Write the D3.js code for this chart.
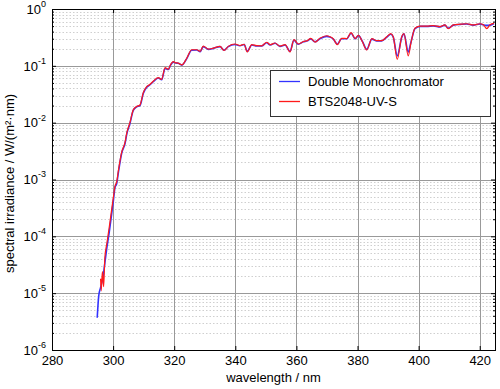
<!DOCTYPE html>
<html lang="en">
<head>
  <meta charset="UTF-8">
  <title>Spectral irradiance</title>
  <script src="https://d3js.org/d3.v7.min.js"></script>
  <style>
    body { margin: 0; background: #fff; }
    text { font-family: "Liberation Sans", Arial, sans-serif; }
  </style>
</head>
<body>
<script>
// wavelength grid (nm), shared by both instruments
const wavelength = [294.8, 295.3, 295.9, 296.1, 296.5, 296.9, 297.3, 297.9, 298.7, 299.5,
  300.1, 300.6, 301.2, 301.7, 302.8, 303.9, 304.5, 305.5, 306.6, 307.7,
  308.8, 309.9, 311.0, 312.0, 313.2, 314.8, 315.9, 317.0, 318.1, 318.7,
  319.7, 320.5, 321.3, 322.5, 324.1, 325.7, 327.4, 328.5, 329.5, 331.2,
  332.8, 335.0, 336.3, 337.7, 339.9, 341.5, 342.9, 343.9, 345.4, 347.0,
  348.6, 350.3, 351.4, 353.0, 354.6, 356.3, 357.9, 359.2, 360.6, 362.3,
  363.6, 364.7, 366.1, 367.7, 369.9, 371.0, 372.1, 373.4, 374.8, 376.5,
  377.9, 379.2, 380.3, 381.6, 383.0, 384.7, 386.3, 387.9, 389.6, 390.9,
  391.7, 393.0, 394.5, 395.2, 396.6, 397.5, 398.8, 400.5, 402.7, 404.8,
  407.0, 408.6, 409.7, 411.4, 413.6, 415.7, 417.9, 420.1, 421.2, 422.3,
  423.4, 424.7];

// Double Monochromator, W/(m2 nm)
const doubleMono = [3.7e-6, 9.0e-6, 1.25e-5, 1.4e-5, 1.7e-5, 2.3e-5, 3.4e-5, 6.0e-5, 1.15e-4, 2.4e-4,
  4.3e-4, 7.2e-4, 8.6e-4, 1.3e-3, 2.9e-3, 4.3e-3, 6.4e-3, 9.6e-3, 1.65e-2, 1.9e-2,
  2.0e-2, 3.3e-2, 4.2e-2, 4.6e-2, 5.3e-2, 6.1e-2, 5.7e-2, 9.0e-2, 8.6e-2, 1.0e-1,
  1.16e-1, 1.12e-1, 1.11e-1, 1.03e-1, 1.34e-1, 1.88e-1, 1.9e-1, 1.78e-1, 2.18e-1, 1.95e-1,
  2.03e-1, 2.18e-1, 1.88e-1, 2.18e-1, 2.38e-1, 2.25e-1, 2.38e-1, 1.8e-1, 2.33e-1, 2.23e-1,
  2.23e-1, 2.55e-1, 2.33e-1, 2.5e-1, 2.2e-1, 2.33e-1, 1.8e-1, 2.83e-1, 2.4e-1, 2.65e-1,
  2.75e-1, 2.98e-1, 2.65e-1, 3.0e-1, 3.3e-1, 3.2e-1, 2.95e-1, 2.4e-1, 3.0e-1, 3.0e-1,
  3.75e-1, 3.0e-1, 3.4e-1, 2.7e-1, 1.95e-1, 2.95e-1, 2.75e-1, 2.75e-1, 3.2e-1, 3.6e-1,
  3.2e-1, 1.5e-1, 3.2e-1, 3.65e-1, 1.75e-1, 2.6e-1, 4.5e-1, 4.95e-1, 4.95e-1, 5.05e-1,
  4.85e-1, 5.2e-1, 4.6e-1, 5.2e-1, 5.35e-1, 5.45e-1, 5.2e-1, 5.45e-1, 5.25e-1, 5.15e-1,
  5.2e-1, 5.55e-1];

// BTS2048-UV-S, W/(m2 nm)
const bts = [null, null, 1.8e-5, 1.1e-5, 2.4e-5, 1.3e-5, 4.2e-5, 7.2e-5, 1.4e-4, 2.9e-4,
  4.9e-4, 7.6e-4, 9.2e-4, 1.4e-3, 3.0e-3, 4.5e-3, 6.7e-3, 1.0e-2, 1.68e-2, 1.92e-2,
  2.05e-2, 3.4e-2, 4.3e-2, 4.7e-2, 5.4e-2, 6.2e-2, 5.8e-2, 9.3e-2, 8.7e-2, 1.02e-1,
  1.19e-1, 1.13e-1, 1.12e-1, 1.04e-1, 1.36e-1, 1.92e-1, 1.92e-1, 1.8e-1, 2.22e-1, 1.97e-1,
  2.05e-1, 2.2e-1, 1.86e-1, 2.2e-1, 2.42e-1, 2.28e-1, 2.4e-1, 1.75e-1, 2.36e-1, 2.26e-1,
  2.25e-1, 2.6e-1, 2.35e-1, 2.52e-1, 2.22e-1, 2.36e-1, 1.76e-1, 2.88e-1, 2.42e-1, 2.68e-1,
  2.78e-1, 3.05e-1, 2.62e-1, 3.05e-1, 3.38e-1, 3.25e-1, 2.98e-1, 2.35e-1, 3.05e-1, 3.02e-1,
  3.85e-1, 3.02e-1, 3.45e-1, 2.65e-1, 1.9e-1, 3.0e-1, 2.78e-1, 2.78e-1, 3.25e-1, 3.7e-1,
  3.25e-1, 1.3e-1, 3.3e-1, 3.7e-1, 1.5e-1, 2.55e-1, 4.6e-1, 5.0e-1, 5.0e-1, 5.1e-1,
  4.9e-1, 5.25e-1, 4.5e-1, 5.25e-1, 5.4e-1, 5.5e-1, 5.25e-1, 5.5e-1, 5.3e-1, 4.5e-1,
  5.3e-1, 5.6e-1];

const xTicks = [280, 300, 320, 340, 360, 380, 400, 420];
const yExponents = [0, -1, -2, -3, -4, -5, -6];
const seriesNames = ["Double Monochromator", "BTS2048-UV-S"];
const seriesColors = ["#3333ff", "#ff1a1a"];

const W = 500, H = 389;
const margin = { top: 9, right: 5, bottom: 39, left: 52 };
const w = W - margin.left - margin.right;
const h = H - margin.top - margin.bottom;

const svg = d3.select("body").append("svg")
  .attr("width", W).attr("height", H);

const g = svg.append("g")
  .attr("transform", `translate(${margin.left},${margin.top})`);

const x = d3.scaleLinear().domain([280, 425]).range([0, w]);
const y = d3.scaleLog().domain([1e-6, 1]).range([h, 0]);

const majorY = yExponents.map(e => Math.pow(10, e));
const minorY = [];
for (let e = -6; e < 0; e++) {
  for (let k = 2; k <= 9; k++) minorY.push(k * Math.pow(10, e));
}

// minor horizontal grid (dotted)
g.append("g").selectAll("line")
  .data(minorY).enter().append("line")
  .attr("x1", 0).attr("x2", w)
  .attr("y1", d => Math.round(y(d)) + 0.5)
  .attr("y2", d => Math.round(y(d)) + 0.5)
  .attr("stroke", "#cfcfcf")
  .attr("stroke-width", 1)
  .attr("stroke-dasharray", "1.5,2");

// major grid
g.append("g").selectAll("line")
  .data(majorY).enter().append("line")
  .attr("x1", 0).attr("x2", w)
  .attr("y1", d => Math.round(y(d)) + 0.5)
  .attr("y2", d => Math.round(y(d)) + 0.5)
  .attr("stroke", "#999")
  .attr("stroke-width", 1);

g.append("g").selectAll("line")
  .data(xTicks).enter().append("line")
  .attr("x1", d => Math.round(x(d)) + 0.5)
  .attr("x2", d => Math.round(x(d)) + 0.5)
  .attr("y1", 0).attr("y2", h)
  .attr("stroke", "#999")
  .attr("stroke-width", 1);

// series
const rows = wavelength.map((wl, i) => ({ wl, a: doubleMono[i], b: bts[i] }));

svg.append("defs").append("clipPath").attr("id", "plot-clip")
  .append("rect").attr("width", w).attr("height", h);

const plot = g.append("g").attr("clip-path", "url(#plot-clip)");

const lineA = d3.line()
  .defined(d => d.a != null)
  .curve(d3.curveMonotoneX)
  .x(d => x(d.wl)).y(d => y(d.a));
const lineB = d3.line()
  .defined(d => d.b != null)
  .curve(d3.curveMonotoneX)
  .x(d => x(d.wl)).y(d => y(d.b));

plot.append("path").datum(rows)
  .attr("d", lineA)
  .attr("fill", "none")
  .attr("stroke", seriesColors[0])
  .attr("stroke-width", 1.6);

plot.append("path").datum(rows)
  .attr("d", lineB)
  .attr("fill", "none")
  .attr("stroke", seriesColors[1])
  .attr("stroke-width", 1.2);

// axes (ticks pointing inward)
const xAxis = g.append("g")
  .attr("transform", `translate(0,${h})`)
  .call(d3.axisBottom(x).tickValues(xTicks).tickSize(-4).tickPadding(6).tickFormat(d3.format("d")));

g.append("g")
  .call(d3.axisTop(x).tickValues(xTicks).tickSize(-4).tickFormat(""));

const yAxis = g.append("g")
  .call(d3.axisLeft(y).tickValues(majorY).tickSize(-4).tickPadding(6).tickFormat(""));

g.append("g")
  .call(d3.axisLeft(y).tickValues(minorY).tickSize(-2).tickFormat(""));
g.append("g").attr("transform", `translate(${w},0)`)
  .call(d3.axisRight(y).tickValues(majorY).tickSize(-4).tickFormat(""));
g.append("g").attr("transform", `translate(${w},0)`)
  .call(d3.axisRight(y).tickValues(minorY).tickSize(-2).tickFormat(""));

g.selectAll(".domain").remove();
g.selectAll(".tick line").attr("stroke", "#000");

xAxis.selectAll("text")
  .attr("font-size", 13)
  .attr("fill", "#000");

yAxis.selectAll(".tick text").each(function (d) {
  const t = d3.select(this)
    .attr("font-size", 13)
    .attr("fill", "#000")
    .attr("dy", "0.32em");
  t.append("tspan").text("10");
  t.append("tspan")
    .attr("font-size", 9)
    .attr("dy", "-0.75em")
    .text(Math.round(Math.log10(d)));
});

// frame
g.append("rect")
  .attr("x", 0.5).attr("y", 0.5)
  .attr("width", w).attr("height", h)
  .attr("fill", "none")
  .attr("stroke", "#000")
  .attr("stroke-width", 1);

// axis labels
svg.append("text")
  .attr("x", margin.left + w / 2)
  .attr("y", 382)
  .attr("text-anchor", "middle")
  .attr("font-size", 13)
  .text("wavelength / nm");

svg.append("text")
  .attr("transform", `translate(14,${margin.top + h / 2 + 4}) rotate(-90)`)
  .attr("text-anchor", "middle")
  .attr("font-size", 13)
  .text("spectral irradiance / W/(m\u00b2\u00b7nm)");

// legend
const legend = svg.append("g").attr("transform", "translate(270,70)");
legend.append("rect")
  .attr("x", 0.5).attr("y", 0.5)
  .attr("width", 220).attr("height", 46)
  .attr("fill", "#fff")
  .attr("stroke", "#333")
  .attr("stroke-width", 1);

seriesNames.forEach((name, i) => {
  const yy = 11.5 + i * 20;
  legend.append("line")
    .attr("x1", 9).attr("x2", 30)
    .attr("y1", yy).attr("y2", yy)
    .attr("stroke", seriesColors[i])
    .attr("stroke-width", 1.3);
  legend.append("text")
    .attr("x", 38)
    .attr("y", yy + 4.5)
    .attr("font-size", 13)
    .text(name);
});
</script>
</body>
</html>
